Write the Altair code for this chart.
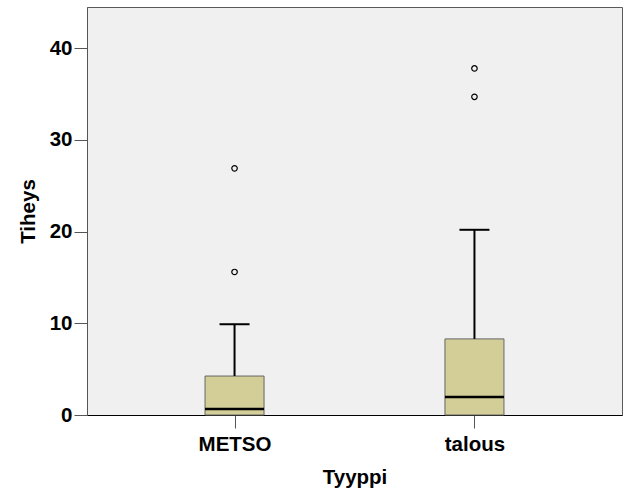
import altair as alt
import pandas as pd

categories = ["METSO", "talous"]
q1 = [0.0, 0.0]
median = [0.65, 1.95]
q3 = [4.25, 8.3]
whisker_high = [9.9, 20.2]

outlier_cat = ["METSO", "METSO", "talous", "talous"]
outlier_val = [15.6, 26.9, 34.7, 37.8]

boxes = pd.DataFrame({"Tyyppi": categories, "q1": q1, "median": median,
                      "q3": q3, "whi": whisker_high})
outs = pd.DataFrame({"Tyyppi": outlier_cat, "Tiheys": outlier_val})

FONT = "Liberation Sans"

xenc = alt.X("Tyyppi:N", title="Tyyppi",
             scale=alt.Scale(type="point", padding=0.615),
             axis=alt.Axis(labelAngle=0))
yscale = alt.Scale(domain=[0, 44.5], nice=False, zero=True)

box = alt.Chart(boxes).mark_bar(size=59, color="#D3CE97", stroke="#666666",
                                strokeWidth=1, opacity=1).encode(
    x=xenc,
    y=alt.Y("q1:Q", title="Tiheys", scale=yscale,
            axis=alt.Axis(values=[0, 10, 20, 30, 40])),
    y2="q3:Q",
)
whisk = alt.Chart(boxes).mark_rule(color="black", strokeWidth=2, opacity=1).encode(
    x=xenc, y=alt.Y("q3:Q", scale=yscale), y2="whi:Q")
cap = alt.Chart(boxes).mark_tick(color="black", size=30, thickness=2, opacity=1).encode(
    x=xenc, y=alt.Y("whi:Q", scale=yscale))
med = alt.Chart(boxes).mark_tick(color="black", size=59, thickness=2.5, opacity=1).encode(
    x=xenc, y=alt.Y("median:Q", scale=yscale))
pts = alt.Chart(outs).mark_point(shape="circle", size=30, filled=False,
                                 color="black", strokeWidth=1.2, opacity=1).encode(
    x=xenc, y=alt.Y("Tiheys:Q", scale=yscale))

chart = alt.layer(box, whisk, cap, med, pts).properties(
    width=535, height=408,
    autosize=alt.AutoSizeParams(type="none"),
    padding={"left": 87, "top": 7, "right": 7, "bottom": 89},
    background="white",
).configure_view(
    fill="#F0F0F0", stroke="#5a5a5a", strokeWidth=1
).configure_axis(
    labelFont=FONT, titleFont=FONT, labelFontSize=20.5, titleFontSize=20.5,
    labelFontWeight="bold", titleFontWeight="bold",
    labelColor="black", titleColor="black", grid=False,
    tickSize=13, tickColor="#555555", domainColor="#555555",
).configure_axisX(
    domainColor="black", labelPadding=6, titlePadding=13,
).configure_axisY(
    labelPadding=2, titlePadding=11,
)

chart.save("out.html", embed_options={"renderer": "svg", "actions": False})
